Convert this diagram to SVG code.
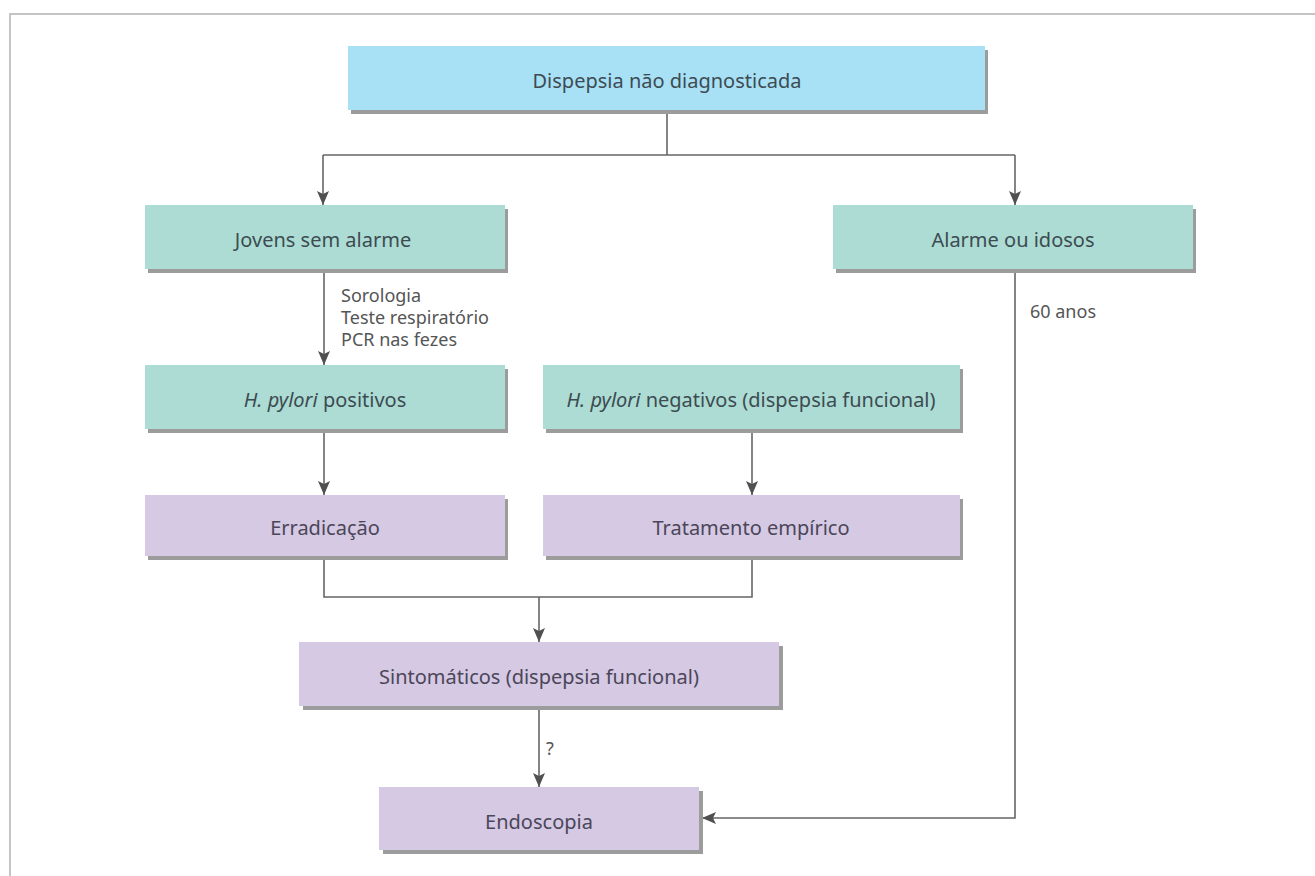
<svg xmlns="http://www.w3.org/2000/svg" width="1315" height="876" viewBox="0 0 1315 876">
  <defs>
    <marker id="arrow" viewBox="0 0 14 12" refX="14" refY="6" markerWidth="14" markerHeight="12" markerUnits="userSpaceOnUse" orient="auto">
      <path d="M0,0 L14,6 L0,12 L3,6 z" fill="#505050"/>
    </marker>
  </defs>
  <style>
    .frame { stroke: #c4c4c4; stroke-width: 2; fill: none; }
    .shadow { fill: #9c9c9c; }
    .blue { fill: #a8e1f6; }
    .green { fill: #acdcd3; }
    .purple { fill: #d5c9e4; }
    .label { font-family: "Noto Sans", "Liberation Sans", sans-serif; font-size: 20px; fill: #3d4b52; text-anchor: middle; dominant-baseline: central; }
    .purple-text { fill: #4b4658; }
    .note { font-family: "Noto Sans", "Liberation Sans", sans-serif; font-size: 18px; fill: #555555; }
    .line { stroke: #666666; stroke-width: 1.6; fill: none; }
    .arrowed { marker-end: url(#arrow); }
  </style>

  <rect width="1315" height="876" fill="#ffffff"/>
  <!-- outer frame: top and left edges -->
  <path class="frame" d="M10,876 V14 H1315"/>

  <!-- connectors -->
  <g id="connectors">
    <path class="line" d="M667,110 V155"/>
    <path class="line" d="M323,155 H1015"/>
    <path class="line arrowed" d="M323,155 V205"/>
    <path class="line arrowed" d="M1015,155 V205"/>
    <path class="line arrowed" d="M324,269 V365"/>
    <path class="line arrowed" d="M752,429 V495"/>
    <path class="line arrowed" d="M324,429 V495"/>
    <path class="line" d="M324,556 V597 H752 V556"/>
    <path class="line arrowed" d="M539,597 V642"/>
    <path class="line arrowed" d="M539,706 V787"/>
    <path class="line arrowed" d="M1015,269 V818 H702"/>
    <text class="note" x="341" y="302">Sorologia</text>
    <text class="note" x="341" y="324">Teste respiratório</text>
    <text class="note" x="341" y="346">PCR nas fezes</text>
    <text class="note" x="1030" y="318">60 anos</text>
    <text class="note" x="546" y="755">?</text>
  </g>

  <g id="n-dispepsia">
    <rect class="shadow" x="351" y="50" width="637" height="64"/>
    <rect class="blue" x="348" y="46" width="637" height="64"/>
    <text class="label" x="667" y="80">Dispepsia não diagnosticada</text>
  </g>

  <g id="n-jovens">
    <rect class="shadow" x="148" y="209" width="360" height="64"/>
    <rect class="green" x="145" y="205" width="360" height="64"/>
    <text class="label" x="323" y="239">Jovens sem alarme</text>
  </g>

  <g id="n-alarme">
    <rect class="shadow" x="836" y="209" width="360" height="64"/>
    <rect class="green" x="833" y="205" width="360" height="64"/>
    <text class="label" x="1013" y="239">Alarme ou idosos</text>
  </g>

  <g id="n-hp-pos">
    <rect class="shadow" x="148" y="369" width="360" height="64"/>
    <rect class="green" x="145" y="365" width="360" height="64"/>
    <text class="label" x="325" y="399"><tspan font-style="italic">H. pylori</tspan> positivos</text>
  </g>

  <g id="n-hp-neg">
    <rect class="shadow" x="546" y="369" width="417" height="64"/>
    <rect class="green" x="543" y="365" width="417" height="64"/>
    <text class="label" x="751" y="399"><tspan font-style="italic">H. pylori</tspan> negativos (dispepsia funcional)</text>
  </g>

  <g id="n-erradicacao">
    <rect class="shadow" x="148" y="499" width="360" height="61"/>
    <rect class="purple" x="145" y="495" width="360" height="61"/>
    <text class="label purple-text" x="325" y="527">Erradicação</text>
  </g>

  <g id="n-tratamento">
    <rect class="shadow" x="546" y="499" width="417" height="61"/>
    <rect class="purple" x="543" y="495" width="417" height="61"/>
    <text class="label purple-text" x="751" y="527">Tratamento empírico</text>
  </g>

  <g id="n-sintomaticos">
    <rect class="shadow" x="303" y="646" width="480" height="64"/>
    <rect class="purple" x="299" y="642" width="480" height="64"/>
    <text class="label purple-text" x="539" y="676">Sintomáticos (dispepsia funcional)</text>
  </g>

  <g id="n-endoscopia">
    <rect class="shadow" x="383" y="791" width="320" height="63"/>
    <rect class="purple" x="379" y="787" width="320" height="63"/>
    <text class="label purple-text" x="539" y="821">Endoscopia</text>
  </g>
</svg>
